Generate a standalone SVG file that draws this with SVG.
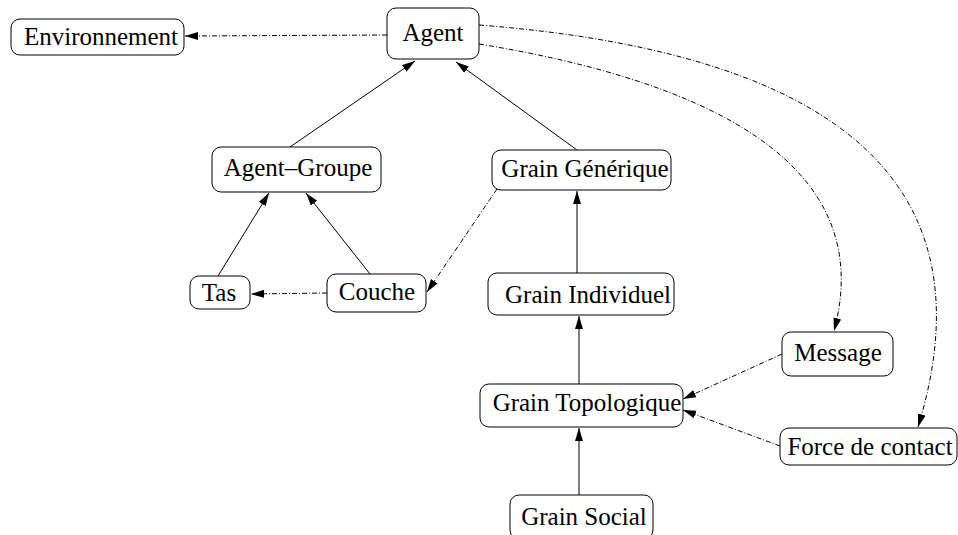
<svg xmlns="http://www.w3.org/2000/svg" width="958" height="535" viewBox="0 0 958 535">
  <style>
    .box { fill: #ffffff; stroke: #000000; stroke-width: 1; }
    .lbl { font-family: "Liberation Serif", "Times New Roman", serif; font-size: 25px; fill: #000000; text-anchor: middle; }
    .solid { fill: none; stroke: #000000; stroke-width: 1; marker-end: url(#head); }
    .dashdot { fill: none; stroke: #000000; stroke-width: 1; stroke-dasharray: 5 2 1 2; marker-end: url(#head); }
  </style>
  <defs>
    <marker id="head" markerUnits="userSpaceOnUse" markerWidth="14" markerHeight="10" refX="13" refY="4" orient="auto">
      <path d="M0,0 L13,4 L0,8 Z" fill="#000000"/>
    </marker>
  </defs>
  <rect width="958" height="535" fill="#ffffff"/>

  <g id="connectors">
    <path class="dashdot" d="M387,35 L185,36"/>
    <path class="solid" d="M290,147 L415,61"/>
    <path class="solid" d="M577,150 L456,62"/>
    <path class="solid" d="M218,276 L269,193"/>
    <path class="solid" d="M370,274 L306,193"/>
    <path class="dashdot" d="M327,293 L251,294"/>
    <path class="dashdot" d="M497,189 L427,292"/>
    <path class="solid" d="M577,273 L577,191"/>
    <path class="solid" d="M579,384 L579,316"/>
    <path class="solid" d="M579,495 L579,428"/>
    <path class="dashdot" d="M782,354 L683,399"/>
    <path class="dashdot" d="M780,446 L683,410"/>
    <path class="dashdot" d="M479,44 C700,80 880,160 834,331"/>
    <path class="dashdot" d="M479,25 C800,50 1000,160 918,427"/>
  </g>

  <g id="environnement">
    <rect class="box" x="11" y="19" width="173" height="36" rx="9"/>
    <text class="lbl" x="101" y="45">Environnement</text>
  </g>
  <g id="agent">
    <rect class="box" x="387" y="8" width="92" height="51" rx="9"/>
    <text class="lbl" x="433" y="41">Agent</text>
  </g>
  <g id="agent-groupe">
    <rect class="box" x="212" y="147" width="169" height="45" rx="9"/>
    <text class="lbl" x="298" y="176">Agent–Groupe</text>
  </g>
  <g id="grain-generique">
    <rect class="box" x="492" y="150" width="179" height="40" rx="9"/>
    <text class="lbl" x="585" y="177">Grain Générique</text>
  </g>
  <g id="tas">
    <rect class="box" x="190" y="276" width="60" height="33" rx="9"/>
    <text class="lbl" x="219" y="301">Tas</text>
  </g>
  <g id="couche">
    <rect class="box" x="327" y="274" width="99" height="38" rx="9"/>
    <text class="lbl" x="377" y="300">Couche</text>
  </g>
  <g id="grain-individuel">
    <rect class="box" x="488" y="273" width="186" height="42" rx="9"/>
    <text class="lbl" x="588" y="303">Grain Individuel</text>
  </g>
  <g id="message">
    <rect class="box" x="782" y="332" width="111" height="44" rx="9"/>
    <text class="lbl" x="838" y="361">Message</text>
  </g>
  <g id="grain-topologique">
    <rect class="box" x="480" y="384" width="203" height="43" rx="9"/>
    <text class="lbl" x="587" y="411">Grain Topologique</text>
  </g>
  <g id="force-de-contact">
    <rect class="box" x="780" y="428" width="177" height="37" rx="9"/>
    <text class="lbl" x="870" y="455">Force de contact</text>
  </g>
  <g id="grain-social">
    <rect class="box" x="510" y="495" width="143" height="44" rx="9"/>
    <text class="lbl" x="584" y="525">Grain Social</text>
  </g>
</svg>
